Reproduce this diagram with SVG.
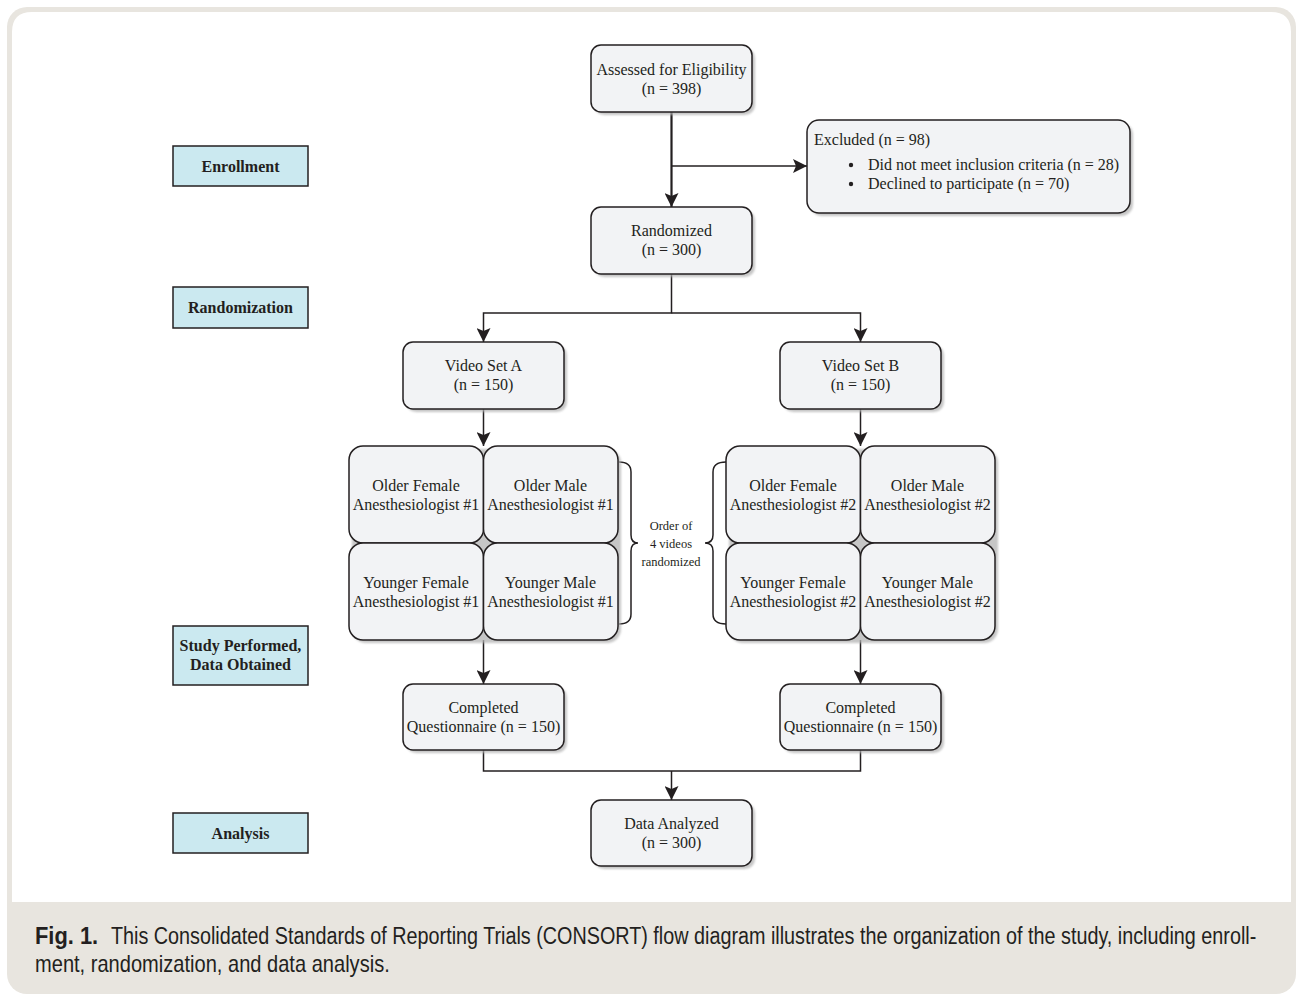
<svg xmlns="http://www.w3.org/2000/svg" width="1296" height="994" viewBox="0 0 1296 994">
<style>
.node{fill:#f2f3f5;stroke:#231f20;stroke-width:1.5}
.shadow{fill:#b3b3b3;opacity:0.75;filter:url(#blur)}
.label{fill:#cbe9f0;stroke:#231f20;stroke-width:1.5}
.t{font-family:"Liberation Serif","Times New Roman",serif;font-size:16px;fill:#231f20;text-anchor:middle}
.tl{font-family:"Liberation Serif","Times New Roman",serif;font-size:16px;fill:#231f20}
.lb{font-family:"Liberation Serif","Times New Roman",serif;font-size:16px;font-weight:bold;fill:#231f20;text-anchor:middle}
.small{font-family:"Liberation Serif","Times New Roman",serif;font-size:12.5px;fill:#231f20;text-anchor:middle}
.conn{fill:none;stroke:#231f20;stroke-width:1.5}
.cap{font-family:"Liberation Sans",Arial,sans-serif;font-size:23px;fill:#231f20}
</style>
<defs>
<filter id="blur" x="-10%" y="-10%" width="120%" height="120%"><feGaussianBlur stdDeviation="1"/></filter>
<marker id="arr" viewBox="0 0 14 14" markerWidth="14" markerHeight="14" refX="14" refY="7" orient="auto" markerUnits="userSpaceOnUse">
<path d="M0,0 L14,7 L0,14 L3,7 z" fill="#231f20"/>
</marker>
</defs>
<rect x="0" y="0" width="1296" height="994" fill="#ffffff"/>
<rect x="7" y="7" width="1289" height="987" rx="20" fill="#e8e5df"/>
<path d="M12,902 L12,32 Q12,12 32,12 L1271,12 Q1291,12 1291,32 L1291,902 Z" fill="#ffffff"/>
<g id="caption">
<text class="cap" font-weight="bold" transform="translate(35,944) scale(0.95,1)">Fig. 1.</text>
<text class="cap" transform="translate(111,944) scale(0.86,1)">This Consolidated Standards of Reporting Trials (CONSORT) flow diagram illustrates the organization of the study, including enroll-</text>
<text class="cap" transform="translate(35,972) scale(0.873,1)">ment, randomization, and data analysis.</text>
</g>

<g id="label-enrollment"><rect class="label" x="173" y="146" width="135" height="40"/><text class="lb" x="240.5" y="172">Enrollment</text></g>
<g id="label-randomization"><rect class="label" x="173" y="287" width="135" height="41"/><text class="lb" x="240.5" y="313">Randomization</text></g>
<g id="label-study"><rect class="label" x="173" y="626" width="135" height="59"/><text class="lb" x="240.5" y="651">Study Performed,</text><text class="lb" x="240.5" y="670">Data Obtained</text></g>
<g id="label-analysis"><rect class="label" x="173" y="813" width="135" height="40"/><text class="lb" x="240.5" y="839">Analysis</text></g>

<g id="connectors">
<line class="conn" x1="671.5" y1="112" x2="671.5" y2="207" marker-end="url(#arr)" style="stroke-width:2.2"/>
<line class="conn" x1="671.5" y1="166" x2="807" y2="166" marker-end="url(#arr)"/>
<polyline class="conn" points="671.5,274 671.5,313 483.5,313 483.5,342" marker-end="url(#arr)"/>
<polyline class="conn" points="671.5,313 860.5,313 860.5,342" marker-end="url(#arr)"/>
<line class="conn" x1="483.5" y1="409" x2="483.5" y2="446" marker-end="url(#arr)"/>
<line class="conn" x1="860.5" y1="409" x2="860.5" y2="446" marker-end="url(#arr)"/>
<line class="conn" x1="483.5" y1="640" x2="483.5" y2="684" marker-end="url(#arr)"/>
<line class="conn" x1="860.5" y1="640" x2="860.5" y2="684" marker-end="url(#arr)"/>
<polyline class="conn" points="483.5,750 483.5,771 860.5,771 860.5,750"/>
<line class="conn" x1="671.5" y1="771" x2="671.5" y2="800" marker-end="url(#arr)"/>
<path class="conn" d="M619,462 Q631,462 631,472 L631,535 Q631,543 638,543 Q631,543 631,551 L631,614 Q631,624 619,624"/>
<path class="conn" d="M726,462 Q713,462 713,472 L713,535 Q713,543 705,543 Q713,543 713,551 L713,614 Q713,624 726,624"/>
</g>

<g id="brace-label">
<text class="small" x="671" y="530">Order of</text>
<text class="small" x="671" y="548">4 videos</text>
<text class="small" x="671" y="566">randomized</text>
</g>

<g id="assessed"><rect class="shadow" x="594" y="48" width="161" height="67" rx="10"/><rect class="node" x="591" y="45" width="161" height="67" rx="10"/><text class="t" x="671.5" y="75">Assessed for Eligibility</text><text class="t" x="671.5" y="94">(n = 398)</text></g>
<g id="excluded"><rect class="shadow" x="810" y="123" width="323" height="93" rx="12"/><rect class="node" x="807" y="120" width="323" height="93" rx="12"/><text class="tl" x="814" y="145">Excluded (n = 98)</text><circle cx="851" cy="165" r="2.2" fill="#231f20"/><text class="tl" x="868" y="170">Did not meet inclusion criteria (n = 28)</text><circle cx="851" cy="184" r="2.2" fill="#231f20"/><text class="tl" x="868" y="189">Declined to participate (n = 70)</text></g>
<g id="randomized"><rect class="shadow" x="594" y="210" width="161" height="67" rx="10"/><rect class="node" x="591" y="207" width="161" height="67" rx="10"/><text class="t" x="671.5" y="236">Randomized</text><text class="t" x="671.5" y="255">(n = 300)</text></g>
<g id="video-a"><rect class="shadow" x="406" y="345" width="161" height="67" rx="10"/><rect class="node" x="403" y="342" width="161" height="67" rx="10"/><text class="t" x="483.5" y="371">Video Set A</text><text class="t" x="483.5" y="390">(n = 150)</text></g>
<g id="video-b"><rect class="shadow" x="783" y="345" width="161" height="67" rx="10"/><rect class="node" x="780" y="342" width="161" height="67" rx="10"/><text class="t" x="860.5" y="371">Video Set B</text><text class="t" x="860.5" y="390">(n = 150)</text></g>

<g id="grid-a-shadow"><rect class="shadow" x="352" y="449" width="269" height="194" rx="14"/></g>
<g id="older-female-1"><rect class="node" x="349" y="446" width="134.5" height="97" rx="14"/><text class="t" x="416" y="491">Older Female</text><text class="t" x="416" y="510">Anesthesiologist #1</text></g>
<g id="older-male-1"><rect class="node" x="483.5" y="446" width="134.5" height="97" rx="14"/><text class="t" x="550.5" y="491">Older Male</text><text class="t" x="550.5" y="510">Anesthesiologist #1</text></g>
<g id="younger-female-1"><rect class="node" x="349" y="543" width="134.5" height="97" rx="14"/><text class="t" x="416" y="588">Younger Female</text><text class="t" x="416" y="607">Anesthesiologist #1</text></g>
<g id="younger-male-1"><rect class="node" x="483.5" y="543" width="134.5" height="97" rx="14"/><text class="t" x="550.5" y="588">Younger Male</text><text class="t" x="550.5" y="607">Anesthesiologist #1</text></g>

<g id="grid-b-shadow"><rect class="shadow" x="729" y="449" width="269" height="194" rx="14"/></g>
<g id="older-female-2"><rect class="node" x="726" y="446" width="134.5" height="97" rx="14"/><text class="t" x="793" y="491">Older Female</text><text class="t" x="793" y="510">Anesthesiologist #2</text></g>
<g id="older-male-2"><rect class="node" x="860.5" y="446" width="134.5" height="97" rx="14"/><text class="t" x="927.5" y="491">Older Male</text><text class="t" x="927.5" y="510">Anesthesiologist #2</text></g>
<g id="younger-female-2"><rect class="node" x="726" y="543" width="134.5" height="97" rx="14"/><text class="t" x="793" y="588">Younger Female</text><text class="t" x="793" y="607">Anesthesiologist #2</text></g>
<g id="younger-male-2"><rect class="node" x="860.5" y="543" width="134.5" height="97" rx="14"/><text class="t" x="927.5" y="588">Younger Male</text><text class="t" x="927.5" y="607">Anesthesiologist #2</text></g>

<g id="completed-a"><rect class="shadow" x="406" y="687" width="161" height="66" rx="10"/><rect class="node" x="403" y="684" width="161" height="66" rx="10"/><text class="t" x="483.5" y="713">Completed</text><text class="t" x="483.5" y="732">Questionnaire (n = 150)</text></g>
<g id="completed-b"><rect class="shadow" x="783" y="687" width="161" height="66" rx="10"/><rect class="node" x="780" y="684" width="161" height="66" rx="10"/><text class="t" x="860.5" y="713">Completed</text><text class="t" x="860.5" y="732">Questionnaire (n = 150)</text></g>
<g id="data-analyzed"><rect class="shadow" x="594" y="803" width="161" height="66" rx="10"/><rect class="node" x="591" y="800" width="161" height="66" rx="10"/><text class="t" x="671.5" y="829">Data Analyzed</text><text class="t" x="671.5" y="848">(n = 300)</text></g>
</svg>
